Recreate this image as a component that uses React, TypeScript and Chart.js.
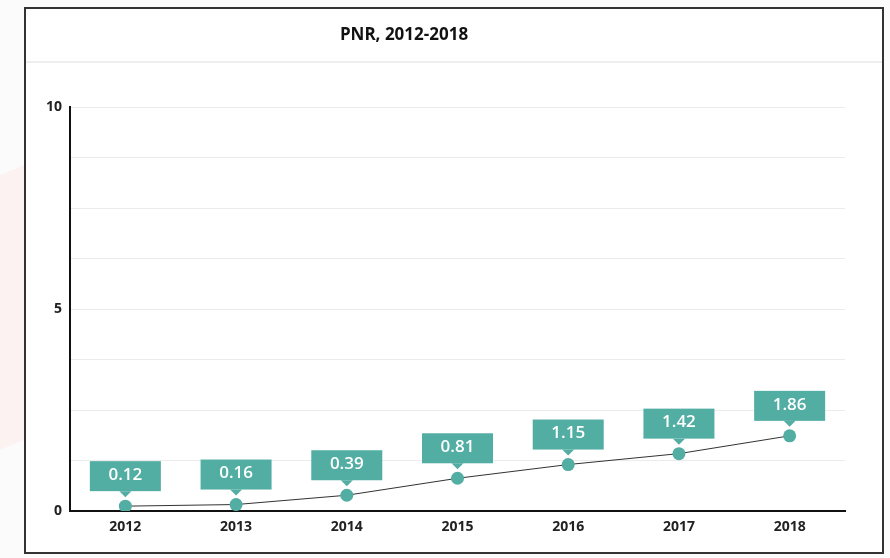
import React, { useEffect, useRef } from "react";
import { Chart, registerables } from "chart.js";

Chart.register(...registerables);

const years = ["2012", "2013", "2014", "2015", "2016", "2017", "2018"];
const pnrValues = [0.12, 0.16, 0.39, 0.81, 1.15, 1.42, 1.86];
const yLabelTicks = [0, 5, 10];
const chartTitle = "PNR, 2012-2018";

const TEAL = "#52ada3";
const FONT = "'Open Sans', 'Noto Sans', sans-serif";

const framePlugin = {
  id: "frame",
  beforeDraw(chart: any) {
    const ctx = chart.ctx;
    ctx.save();
    ctx.fillStyle = "#fbfbfb";
    ctx.fillRect(0, 0, chart.width, chart.height);
    ctx.fillStyle = "rgba(255,225,225,0.35)";
    ctx.beginPath();
    ctx.moveTo(0, 175);
    ctx.lineTo(24, 165);
    ctx.lineTo(24, 440);
    ctx.lineTo(0, 450);
    ctx.closePath();
    ctx.fill();
    ctx.fillStyle = "#ffffff";
    ctx.fillRect(25, 8, 858, 545);
    ctx.strokeStyle = "#333333";
    ctx.lineWidth = 2;
    ctx.strokeRect(25, 8, 858, 545);
    ctx.strokeStyle = "#eeeeee";
    ctx.lineWidth = 2;
    ctx.beginPath();
    ctx.moveTo(26, 62);
    ctx.lineTo(882, 62);
    ctx.stroke();
    ctx.fillStyle = "#111111";
    ctx.font = `bold 17px ${FONT}`;
    ctx.textAlign = "center";
    ctx.textBaseline = "middle";
    ctx.fillText(chartTitle, 404, 35);
    ctx.restore();
  },
};

const calloutPlugin = {
  id: "callouts",
  afterDatasetsDraw(chart: any) {
    const ctx = chart.ctx;
    const meta = chart.getDatasetMeta(0);
    const data = chart.data.datasets[0].data as number[];
    ctx.save();
    meta.data.forEach((pt: any, i: number) => {
      const x = pt.x;
      const y = pt.y;
      const w = 71;
      const h = 30;
      const bottom = y - 15;
      const top = bottom - h;
      ctx.fillStyle = TEAL;
      ctx.fillRect(x - w / 2, top, w, h);
      ctx.beginPath();
      ctx.moveTo(x - 6, bottom);
      ctx.lineTo(x + 6, bottom);
      ctx.lineTo(x, bottom + 6);
      ctx.closePath();
      ctx.fill();
      ctx.fillStyle = "#ffffff";
      ctx.font = `600 17px ${FONT}`;
      ctx.textAlign = "center";
      ctx.textBaseline = "middle";
      ctx.fillText(data[i].toFixed(2), x, top + h / 2 - 1);
    });
    ctx.restore();
  },
};

export default function App() {
  const ref = useRef<HTMLCanvasElement>(null);
  useEffect(() => {
    document.body.style.margin = "0";
    const chart = new Chart(ref.current as HTMLCanvasElement, {
      type: "line",
      data: {
        labels: years,
        datasets: [
          {
            data: pnrValues,
            borderColor: "#333333",
            borderWidth: 1,
            pointBackgroundColor: TEAL,
            pointBorderWidth: 0,
            pointRadius: 6.5,
            tension: 0,
          },
        ],
      },
      options: {
        animation: false,
        responsive: false,
        layout: { padding: { left: 0, top: 107, right: 45, bottom: 0 } },
        plugins: { legend: { display: false }, tooltip: { enabled: false }, title: { display: false } },
        scales: {
          x: {
            offset: true,
            grid: { display: false, drawTicks: false },
            border: { color: "#111111", width: 2 },
            ticks: { padding: 8, color: "#222222", font: { family: FONT, size: 14, weight: "bold" } },
            afterFit: (s: any) => { s.height = 47; },
          },
          y: {
            min: 0,
            max: 10,
            grid: { color: "#ebebeb", drawTicks: false, lineWidth: 1 },
            border: { color: "#111111", width: 2 },
            ticks: {
              stepSize: 1.25,
              padding: 8,
              color: "#222222",
              font: { family: FONT, size: 14, weight: "bold" },
              callback: (v: any) => (yLabelTicks.includes(Number(v)) ? String(v) : ""),
            },
            afterFit: (s: any) => { s.width = 70; },
          },
        },
      },
      plugins: [framePlugin, calloutPlugin],
    });
    return () => chart.destroy();
  }, []);
  return <canvas ref={ref} width={890} height={558} style={{ display: "block" }} />;
}
